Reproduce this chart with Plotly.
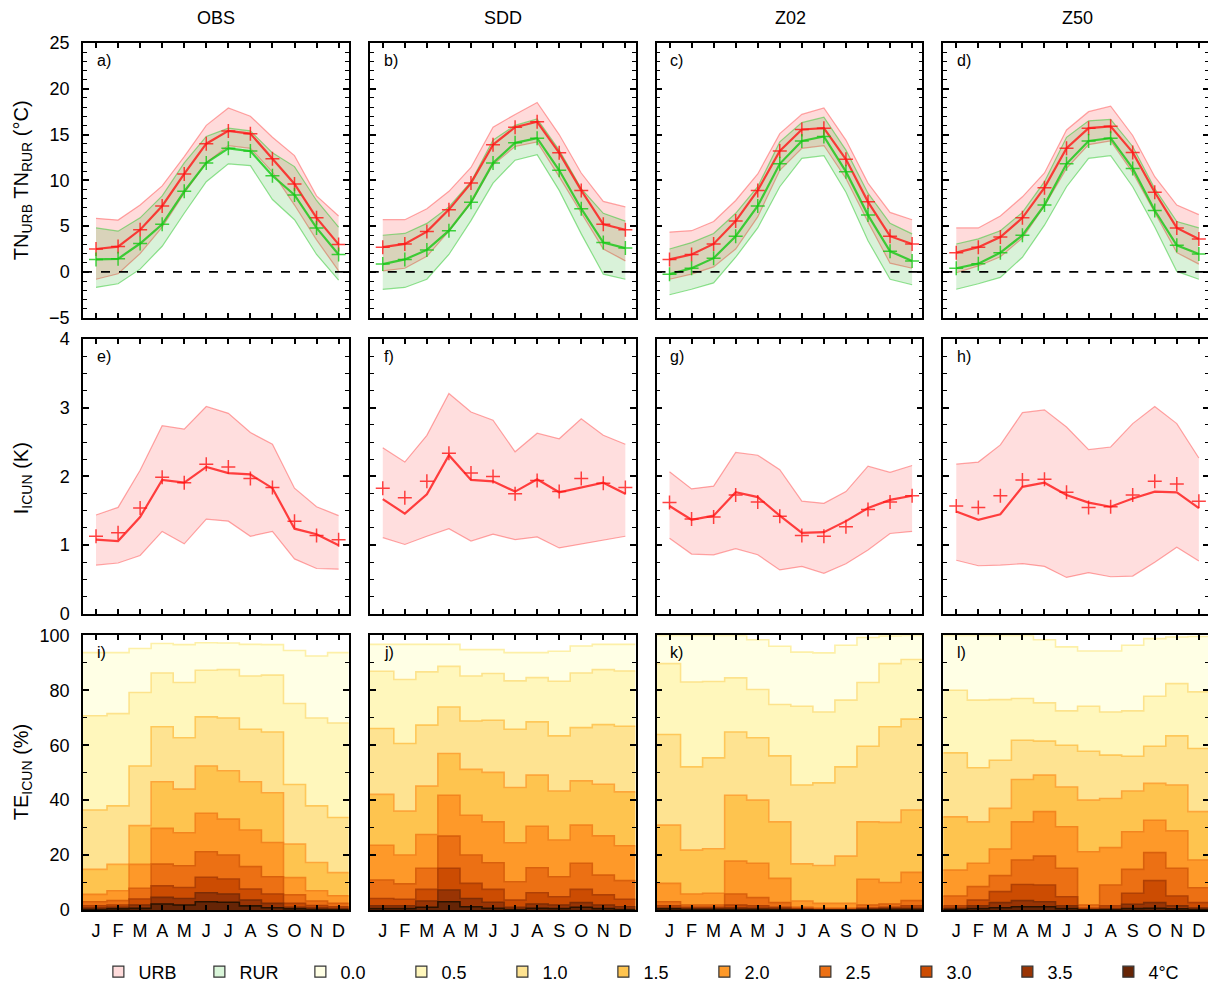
import plotly.graph_objects as go
from plotly.subplots import make_subplots

MONTHS = list(range(1, 13))
MONTH_LABELS = ["J", "F", "M", "A", "M", "J", "J", "A", "S", "O", "N", "D"]
MODELS = ["OBS", "SDD", "Z02", "Z50"]
PANEL_LETTERS = ["a)", "b)", "c)", "d)", "e)", "f)", "g)", "h)", "i)", "j)", "k)", "l)"]
THRESHOLDS = ["0.0", "0.5", "1.0", "1.5", "2.0", "2.5", "3.0", "3.5", "4°C"]

# ---------- Row 1: TN urban / rural (°C) ----------
OBS_URB = [2.5, 2.76, 4.6, 7.2, 10.7, 14.0, 15.4, 15.1, 12.35, 9.6, 5.9, 3.0]
OBS_URB_LO = [-0.8, -0.2, 2.0, 4.9, 8.6, 11.9, 13.8, 13.5, 10.9, 7.3, 3.5, 0.1]
OBS_URB_HI = [5.85, 5.66, 7.3, 9.4, 12.6, 16.0, 17.9, 17.0, 14.7, 12.7, 8.3, 6.1]
OBS_RUR = [1.36, 1.43, 3.1, 5.2, 8.8, 11.9, 13.5, 13.2, 10.5, 8.4, 4.8, 1.9]
OBS_RUR_LO = [-1.7, -1.3, 0.3, 2.8, 6.4, 9.85, 11.8, 11.6, 7.9, 5.7, 1.9, -0.9]
OBS_RUR_HI = [4.8, 4.45, 5.9, 8.3, 11.9, 14.8, 15.7, 15.4, 13.0, 11.5, 7.8, 4.9]

SDD_URB = [2.7, 3.05, 4.4, 6.8, 9.7, 13.9, 15.8, 16.4, 13.0, 8.9, 5.2, 4.6]
SDD_URB_LO = [0.1, 0.4, 1.7, 4.45, 7.5, 11.7, 13.7, 14.2, 10.4, 6.5, 2.5, 1.2]
SDD_URB_HI = [5.7, 5.7, 6.9, 8.8, 11.4, 15.8, 17.2, 18.5, 15.0, 10.8, 7.7, 7.1]
SDD_RUR = [0.85, 1.36, 2.4, 4.5, 7.6, 11.9, 14.1, 14.6, 11.1, 6.9, 3.2, 2.6]
SDD_RUR_LO = [-1.9, -1.7, -0.8, 1.9, 5.6, 9.7, 12.2, 12.8, 8.9, 4.15, -0.25, -0.8]
SDD_RUR_HI = [4.0, 4.2, 5.3, 7.1, 9.85, 14.4, 16.0, 16.7, 13.3, 9.1, 6.4, 5.55]

Z02_URB = [1.36, 1.9, 3.05, 5.55, 8.9, 13.2, 15.55, 15.7, 12.3, 7.65, 3.9, 3.05]
Z02_URB_LO = [-0.8, -0.25, 0.55, 2.5, 6.0, 11.1, 13.5, 13.8, 10.2, 5.45, 0.95, 0.4]
Z02_URB_HI = [4.35, 4.5, 5.5, 7.8, 10.7, 15.1, 17.2, 17.9, 14.4, 9.7, 6.5, 5.7]
Z02_RUR = [-0.25, 0.4, 1.5, 3.9, 7.2, 11.8, 14.3, 14.8, 10.95, 6.2, 2.25, 1.2]
Z02_RUR_LO = [-2.5, -1.9, -1.2, 1.6, 4.8, 9.3, 12.4, 12.7, 8.7, 3.4, -0.8, -1.4]
Z02_RUR_HI = [2.5, 3.2, 4.2, 6.4, 9.3, 14.2, 16.3, 16.9, 13.3, 8.6, 5.3, 4.15]

Z50_URB = [2.1, 2.7, 3.8, 5.9, 9.2, 13.5, 15.7, 15.9, 13.05, 8.7, 4.8, 3.6]
Z50_URB_LO = [-0.1, 0.65, 1.65, 3.7, 7.2, 11.3, 13.9, 14.3, 10.85, 6.4, 2.1, 0.85]
Z50_URB_HI = [4.8, 4.8, 6.1, 8.2, 10.8, 15.5, 17.5, 18.1, 14.9, 10.4, 7.3, 6.25]
Z50_RUR = [0.4, 0.9, 2.1, 4.0, 7.3, 11.8, 14.3, 14.6, 11.3, 6.7, 2.9, 1.95]
Z50_RUR_LO = [-1.9, -1.3, -0.6, 1.6, 5.1, 9.3, 12.4, 12.7, 9.3, 4.9, 0.05, -0.8]
Z50_RUR_HI = [3.05, 3.6, 4.5, 6.5, 9.85, 14.7, 16.5, 16.65, 13.7, 9.1, 5.5, 4.8]

# ---------- Row 2: I_ICUN (K): median line, mean markers, spread ----------
OBS_ICUN = [1.08, 1.06, 1.41, 1.95, 1.91, 2.14, 2.05, 2.03, 1.83, 1.24, 1.16, 1.0]
OBS_ICUN_MEAN = [1.13, 1.18, 1.54, 1.99, 1.91, 2.18, 2.14, 1.97, 1.84, 1.35, 1.14, 1.08]
OBS_ICUN_LO = [0.71, 0.74, 0.85, 1.2, 1.02, 1.38, 1.35, 1.13, 1.2, 0.8, 0.66, 0.65]
OBS_ICUN_HI = [1.44, 1.55, 2.09, 2.74, 2.69, 3.02, 2.92, 2.64, 2.47, 1.83, 1.56, 1.43]

SDD_ICUN = [1.67, 1.46, 1.74, 2.31, 1.95, 1.93, 1.78, 1.96, 1.77, 1.84, 1.91, 1.75]
SDD_ICUN_MEAN = [1.83, 1.69, 1.93, 2.34, 2.05, 2.0, 1.75, 1.94, 1.78, 1.97, 1.9, 1.84]
SDD_ICUN_LO = [1.11, 1.01, 1.13, 1.24, 1.06, 1.16, 1.08, 1.12, 0.96, 1.02, 1.07, 1.13]
SDD_ICUN_HI = [2.42, 2.21, 2.6, 3.21, 2.94, 2.82, 2.36, 2.63, 2.55, 2.84, 2.6, 2.47]

Z02_ICUN = [1.57, 1.37, 1.43, 1.77, 1.7, 1.43, 1.18, 1.19, 1.35, 1.54, 1.66, 1.72]
Z02_ICUN_MEAN = [1.62, 1.38, 1.41, 1.73, 1.63, 1.42, 1.14, 1.13, 1.27, 1.52, 1.63, 1.72]
Z02_ICUN_LO = [1.1, 0.87, 0.86, 0.95, 0.86, 0.64, 0.69, 0.59, 0.73, 0.93, 1.17, 1.2]
Z02_ICUN_HI = [2.07, 1.82, 1.86, 2.35, 2.31, 2.1, 1.64, 1.61, 1.78, 2.15, 2.06, 2.16]

Z50_ICUN = [1.49, 1.37, 1.45, 1.85, 1.91, 1.73, 1.62, 1.56, 1.68, 1.78, 1.77, 1.54]
Z50_ICUN_MEAN = [1.57, 1.55, 1.72, 1.95, 1.96, 1.77, 1.55, 1.56, 1.73, 1.93, 1.89, 1.64]
Z50_ICUN_LO = [0.78, 0.7, 0.71, 0.73, 0.69, 0.53, 0.6, 0.54, 0.55, 0.75, 0.97, 0.77]
Z50_ICUN_HI = [2.18, 2.21, 2.46, 2.93, 2.97, 2.72, 2.39, 2.43, 2.77, 3.02, 2.77, 2.27]

# ---------- Row 3: TE_ICUN (%) exceedance per threshold (rows: 0.0 ... 4.0) ----------
OBS_TE = [
    [93.7, 93.7, 95.2, 97.0, 96.6, 97.3, 97.2, 96.7, 96.6, 94.5, 92.5, 93.7],
    [70.7, 71.5, 79.2, 86.3, 82.8, 87.3, 87.5, 85.2, 85.5, 75.2, 69.9, 68.1],
    [36.4, 37.9, 52.4, 66.7, 62.7, 70.3, 69.9, 65.8, 64.8, 45.7, 37.9, 33.7],
    [14.8, 16.6, 30.7, 46.7, 44.0, 52.4, 50.7, 46.7, 42.7, 24.0, 17.3, 13.6],
    [5.7, 7.0, 16.6, 29.7, 28.1, 35.2, 33.1, 29.1, 24.6, 11.8, 7.0, 5.2],
    [3.0, 3.4, 7.9, 16.7, 16.1, 21.2, 20.0, 15.8, 12.1, 5.5, 3.3, 2.4],
    [1.5, 1.8, 4.0, 8.8, 8.2, 11.9, 11.3, 7.6, 5.8, 2.4, 1.6, 1.2],
    [0.7, 1.0, 1.8, 4.6, 4.2, 6.3, 5.8, 3.6, 2.4, 1.0, 0.7, 0.5],
    [0.2, 0.4, 0.6, 2.2, 1.8, 3.0, 2.8, 1.5, 0.8, 0.4, 0.2, 0.1],
]
SDD_TE = [
    [96.7, 96.7, 96.7, 96.7, 94.8, 94.8, 93.7, 93.7, 94.2, 96.1, 96.7, 96.7],
    [86.9, 83.9, 86.7, 88.7, 85.2, 86.1, 83.4, 84.6, 83.3, 86.3, 87.5, 87.0],
    [66.1, 60.6, 67.3, 73.9, 68.8, 69.1, 65.8, 68.5, 63.4, 66.4, 67.5, 66.9],
    [42.1, 36.0, 45.1, 57.0, 51.2, 50.1, 44.6, 49.1, 43.3, 47.0, 45.8, 43.0],
    [23.6, 20.0, 27.5, 41.8, 34.5, 32.1, 24.5, 30.5, 25.5, 30.9, 27.0, 23.4],
    [10.9, 9.5, 15.2, 26.9, 20.0, 17.2, 10.3, 15.4, 12.1, 17.0, 12.7, 10.7],
    [4.2, 3.9, 7.5, 15.2, 9.7, 7.5, 3.6, 6.3, 4.8, 7.5, 5.5, 3.9],
    [1.5, 1.5, 3.3, 7.3, 4.2, 2.8, 1.0, 2.2, 1.8, 2.7, 1.8, 1.2],
    [0.5, 0.5, 1.0, 3.0, 1.2, 0.6, 0.2, 0.6, 0.5, 1.0, 0.5, 0.2],
]
Z02_TE = [
    [100.0, 100.0, 100.0, 100.0, 98.4, 96.0, 93.9, 93.6, 96.4, 99.2, 99.8, 100.0],
    [89.7, 83.0, 83.2, 84.5, 80.3, 74.8, 74.2, 72.1, 76.4, 82.8, 89.7, 91.2],
    [63.9, 52.1, 55.4, 64.8, 62.7, 56.1, 45.5, 46.3, 52.1, 59.6, 66.7, 69.5],
    [30.9, 21.8, 22.3, 41.8, 40.0, 32.1, 16.8, 16.2, 19.6, 32.1, 31.9, 36.4],
    [9.7, 5.8, 6.1, 17.8, 17.0, 11.5, 3.3, 2.4, 2.4, 11.2, 10.0, 13.7],
    [3.0, 1.8, 1.8, 5.8, 4.5, 2.7, 1.0, 0.6, 0.6, 1.8, 2.2, 3.4],
    [1.5, 1.0, 1.0, 1.8, 1.5, 1.0, 0.4, 0.2, 0.2, 0.7, 1.0, 1.5],
    [0.7, 0.5, 0.5, 0.7, 0.6, 0.5, 0.2, 0.1, 0.1, 0.4, 0.5, 0.6],
    [0.4, 0.2, 0.2, 0.2, 0.2, 0.1, 0.1, 0.0, 0.0, 0.1, 0.2, 0.2],
]
Z50_TE = [
    [100.0, 100.0, 100.0, 100.0, 98.4, 95.8, 94.3, 94.3, 96.4, 98.8, 99.4, 99.6],
    [80.0, 76.4, 76.6, 77.0, 75.4, 72.5, 74.2, 72.1, 72.5, 77.8, 82.4, 79.4],
    [57.2, 51.8, 54.5, 61.8, 61.5, 60.0, 57.8, 56.4, 56.0, 59.6, 63.4, 58.8],
    [33.9, 32.1, 37.0, 47.5, 49.1, 44.8, 40.0, 40.6, 43.3, 46.1, 45.5, 35.8],
    [14.5, 17.0, 22.2, 32.1, 35.8, 30.3, 21.2, 22.7, 28.5, 32.7, 28.8, 18.2],
    [5.1, 8.5, 12.5, 18.2, 19.6, 15.2, 1.8, 9.1, 14.8, 20.9, 15.2, 8.1],
    [1.5, 3.6, 6.7, 9.3, 9.1, 4.8, 0.6, 1.5, 6.1, 10.7, 5.1, 2.7],
    [0.6, 1.5, 2.7, 3.4, 3.0, 1.5, 0.2, 0.5, 2.1, 2.7, 1.5, 0.7],
    [0.2, 0.5, 0.8, 1.2, 1.2, 0.5, 0.1, 0.1, 0.5, 0.6, 0.4, 0.2],
]

TN_DATA = [
    (OBS_URB, OBS_URB_LO, OBS_URB_HI, OBS_RUR, OBS_RUR_LO, OBS_RUR_HI),
    (SDD_URB, SDD_URB_LO, SDD_URB_HI, SDD_RUR, SDD_RUR_LO, SDD_RUR_HI),
    (Z02_URB, Z02_URB_LO, Z02_URB_HI, Z02_RUR, Z02_RUR_LO, Z02_RUR_HI),
    (Z50_URB, Z50_URB_LO, Z50_URB_HI, Z50_RUR, Z50_RUR_LO, Z50_RUR_HI),
]
ICUN_DATA = [
    (OBS_ICUN, OBS_ICUN_MEAN, OBS_ICUN_LO, OBS_ICUN_HI),
    (SDD_ICUN, SDD_ICUN_MEAN, SDD_ICUN_LO, SDD_ICUN_HI),
    (Z02_ICUN, Z02_ICUN_MEAN, Z02_ICUN_LO, Z02_ICUN_HI),
    (Z50_ICUN, Z50_ICUN_MEAN, Z50_ICUN_LO, Z50_ICUN_HI),
]
TE_DATA = [OBS_TE, SDD_TE, Z02_TE, Z50_TE]

# ---------- styles ----------
FONT = "Liberation Sans, Arial, sans-serif"
XMIN, XMAX = 0.41, 12.46
PALETTE = ["#ffffe5", "#fff7bc", "#fee391", "#fec44f", "#fe9929",
           "#ec7014", "#cc4c02", "#993404", "#662506"]
EDGE = ["#fdf0a8", "#fde38c", "#fec85a", "#fda63a", "#f3851f",
        "#d9600c", "#b04004", "#7d2c05", "#2a1200"]
URB_FILL = "rgba(255,0,0,0.14)"
RUR_FILL = "rgba(0,170,0,0.15)"
URB_EDGE = "rgba(255,60,60,0.45)"
RUR_EDGE = "rgba(40,200,40,0.5)"
URB_LINE = "rgba(255,20,20,0.8)"
RUR_LINE = "rgba(20,200,20,0.8)"

fig = make_subplots(rows=3, cols=4, horizontal_spacing=21 / 1126,
                    vertical_spacing=21.5 / 867)


def band(lo, hi, fill, edge, r, c):
    fig.add_trace(go.Scatter(x=MONTHS, y=lo, mode="lines",
                             line=dict(color=edge, width=1.2),
                             showlegend=False, hoverinfo="skip"), row=r, col=c)
    fig.add_trace(go.Scatter(x=MONTHS, y=hi, mode="lines", fill="tonexty",
                             fillcolor=fill, line=dict(color=edge, width=1.2),
                             showlegend=False, hoverinfo="skip"), row=r, col=c)


def line_marks(y, color, r, c, marks=None):
    fig.add_trace(go.Scatter(x=MONTHS, y=y, mode="lines",
                             line=dict(color=color, width=2.2),
                             showlegend=False), row=r, col=c)
    fig.add_trace(go.Scatter(x=MONTHS, y=marks if marks is not None else y,
                             mode="markers",
                             marker=dict(symbol="cross-thin", size=10,
                                         line=dict(color=color, width=1.5)),
                             showlegend=False), row=r, col=c)


for c in range(1, 5):
    urb, urb_lo, urb_hi, rur, rur_lo, rur_hi = TN_DATA[c - 1]
    band(urb_lo, urb_hi, URB_FILL, URB_EDGE, 1, c)
    band(rur_lo, rur_hi, RUR_FILL, RUR_EDGE, 1, c)
    line_marks(urb, URB_LINE, 1, c)
    line_marks(rur, RUR_LINE, 1, c)

    med, mean, lo, hi = ICUN_DATA[c - 1]
    band(lo, hi, "rgba(255,0,0,0.13)", URB_EDGE, 2, c)
    line_marks(med, URB_LINE, 2, c, marks=mean)

    te = TE_DATA[c - 1]
    xs = [XMIN] + MONTHS + [XMAX]
    for k, vals in enumerate(te):
        ys = [vals[0]] + vals + [vals[-1]]
        fig.add_trace(go.Scatter(x=xs, y=ys, mode="lines", line_shape="hvh",
                                 fill="tozeroy", fillcolor=PALETTE[k],
                                 line=dict(color=EDGE[k], width=1.6),
                                 showlegend=False, hoverinfo="skip"),
                      row=3, col=c)

# legend entries
legend_items = [("URB", "#ffdcdc"), ("RUR", "#d9f5d9")] + \
               [(t, PALETTE[i]) for i, t in enumerate(THRESHOLDS)]
for name, col in legend_items:
    fig.add_trace(go.Scatter(x=[None], y=[None], mode="markers", name=name,
                             marker=dict(symbol="square", size=11, color=col,
                                         line=dict(color="#333333", width=1.2)),
                             showlegend=True), row=1, col=1)

# axes
ax_common = dict(showline=True, linecolor="black", linewidth=1.5, mirror="ticks",
                 ticks="inside", tickcolor="black", showgrid=False, zeroline=False,
                 automargin=False,
                 tickfont=dict(family=FONT, size=18, color="black"))
for r in range(1, 4):
    for c in range(1, 5):
        fig.update_xaxes(range=[XMIN, XMAX], tickvals=MONTHS, ticktext=MONTH_LABELS,
                         ticklen=5, tickwidth=1.5, showticklabels=(r == 3),
                         ticklabelstandoff=4, row=r, col=c, **ax_common)
        if r == 1:
            yr, dt, mdt = [-5, 25], 5, 1
        elif r == 2:
            yr, dt, mdt = [0, 4], 1, 0.25
        else:
            yr, dt, mdt = [0, 100], 20, 10
        fig.update_yaxes(range=yr, dtick=dt, tick0=0, ticklen=6, tickwidth=1.5,
                         minor=dict(dtick=mdt, ticks="inside", ticklen=4,
                                    tickcolor="black", tickwidth=1.2),
                         showticklabels=(c == 1), ticklabelstandoff=8,
                         row=r, col=c, **ax_common)

# zero dashed line in row 1
for c in range(1, 5):
    fig.add_hline(y=0, line=dict(color="black", width=1.6, dash="dash"), row=1, col=c)

annotations = []
# column titles
col_centers = [(133 + i * 287) / 1126 for i in range(4)]
for i, m in enumerate(MODELS):
    annotations.append(dict(text=m, x=col_centers[i], y=1.029, xref="paper", yref="paper",
                            xanchor="center", yanchor="middle", showarrow=False,
                            font=dict(family=FONT, size=18, color="black")))
# panel letters
k = 0
for r in range(1, 4):
    for c in range(1, 5):
        idx = (r - 1) * 4 + c
        sfx = "" if idx == 1 else str(idx)
        annotations.append(dict(text=PANEL_LETTERS[k], x=0.045, y=0.975,
                                xref=f"x{sfx} domain", yref=f"y{sfx} domain",
                                xanchor="left", yanchor="top", showarrow=False,
                                font=dict(family=FONT, size=16, color="black")))
        k += 1
# y axis titles
ytitles = ["TN<sub>URB</sub> TN<sub>RUR</sub> (°C)", "I<sub>ICUN</sub> (K)",
           "TE<sub>ICUN</sub> (%)"]
row_centers = [(910 - 180) / 867, (910 - 478) / 867, (910 - 772) / 867]
for t, yc in zip(ytitles, row_centers):
    annotations.append(dict(text=t, x=-0.054, y=yc, xref="paper", yref="paper",
                            xanchor="center", yanchor="middle", textangle=-90,
                            showarrow=False,
                            font=dict(family=FONT, size=20, color="black")))

# the page body adds an 8 px offset, so the figure is 8 px smaller and shifted
fig.update_layout(
    width=1208, height=980,
    margin=dict(l=75, r=7, t=35, b=78, autoexpand=False),
    paper_bgcolor="white", plot_bgcolor="white",
    font=dict(family=FONT, size=18, color="black"),
    annotations=annotations,
    showlegend=True,
    legend=dict(orientation="h", x=0.507, xanchor="center", y=-0.0715,
                yanchor="middle", font=dict(family=FONT, size=18, color="black"),
                itemwidth=30, entrywidth=56, traceorder="normal",
                bgcolor="rgba(0,0,0,0)"),
)

fig.write_html("out.html")
